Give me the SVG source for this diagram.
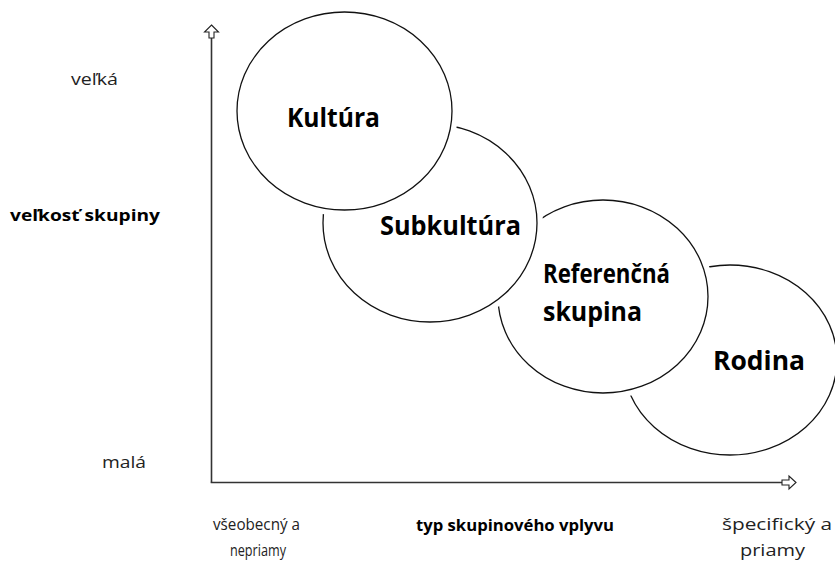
<svg xmlns="http://www.w3.org/2000/svg" width="835" height="563" viewBox="0 0 835 563">
<style>
.halo{fill:#fff;stroke:#fff;stroke-width:12}
.circ{fill:#fff;stroke:#111;stroke-width:1.3}
.big{font-family:"Open Sans","Noto Sans",sans-serif;font-weight:bold;font-size:27px;fill:#000}
.lbl{font-family:"Open Sans","Noto Sans",sans-serif;font-size:16px;fill:#222}
.lblb{font-family:"Open Sans","Noto Sans",sans-serif;font-size:16px;font-weight:bold;fill:#000}
.axis{stroke:#333;stroke-width:1.6;fill:none}
.head{fill:#fff;stroke:#222;stroke-width:1.1;stroke-linejoin:miter}
</style>
<rect width="835" height="563" fill="#fff"/>
<g id="connectors">
<line class="axis" x1="211.5" y1="37" x2="211.5" y2="482.5"/>
<line class="axis" x1="210.7" y1="482.5" x2="783" y2="482.5"/>
<path class="head" d="M211.5,25 L218.5,32 L214,32 L214,38 L209,38 L209,32 L204.5,32 Z"/>
<path class="head" d="M796,482.5 L789,476 L789,480 L782,480 L782,485 L789,485 L789,489 Z"/>
</g>
<g id="rodina">
<ellipse class="circ" cx="730" cy="360" rx="107" ry="95"/>
<text class="big" x="713" y="370" textLength="92" lengthAdjust="spacingAndGlyphs">Rodina</text>
</g>
<g id="referencna">
<ellipse class="halo" cx="603" cy="296.5" rx="105" ry="96.5"/>
<ellipse class="circ" cx="603" cy="296.5" rx="105" ry="96.5"/>
<text class="big" x="543" y="283" textLength="127" lengthAdjust="spacingAndGlyphs">Referenčná</text>
<text class="big" x="543" y="321" textLength="99" lengthAdjust="spacingAndGlyphs">skupina</text>
</g>
<g id="subkultura">
<ellipse class="halo" cx="430" cy="223" rx="107" ry="99"/>
<ellipse class="circ" cx="430" cy="223" rx="107" ry="99"/>
<text class="big" x="380" y="235" textLength="141" lengthAdjust="spacingAndGlyphs">Subkultúra</text>
</g>
<g id="kultura">
<ellipse class="halo" cx="344.5" cy="111" rx="107.5" ry="99"/>
<ellipse class="circ" cx="344.5" cy="111" rx="107.5" ry="99"/>
<text class="big" x="287" y="127" textLength="93" lengthAdjust="spacingAndGlyphs">Kultúra</text>
</g>
<g id="labels">
<text class="lbl" x="71" y="85" textLength="47" lengthAdjust="spacingAndGlyphs">veľká</text>
<text class="lblb" x="10" y="221" textLength="150" lengthAdjust="spacingAndGlyphs">veľkosť skupiny</text>
<text class="lbl" x="102" y="468" textLength="44" lengthAdjust="spacingAndGlyphs">malá</text>
<text class="lbl" x="213" y="530" textLength="87" lengthAdjust="spacingAndGlyphs">všeobecný a</text>
<text class="lbl" x="230" y="556" textLength="56" lengthAdjust="spacingAndGlyphs">nepriamy</text>
<text class="lblb" x="416" y="531" textLength="198" lengthAdjust="spacingAndGlyphs">typ skupinového vplyvu</text>
<text class="lbl" x="722" y="530" textLength="110" lengthAdjust="spacingAndGlyphs">špecifický a</text>
<text class="lbl" x="740" y="556" textLength="65" lengthAdjust="spacingAndGlyphs">priamy</text>
</g>
</svg>
